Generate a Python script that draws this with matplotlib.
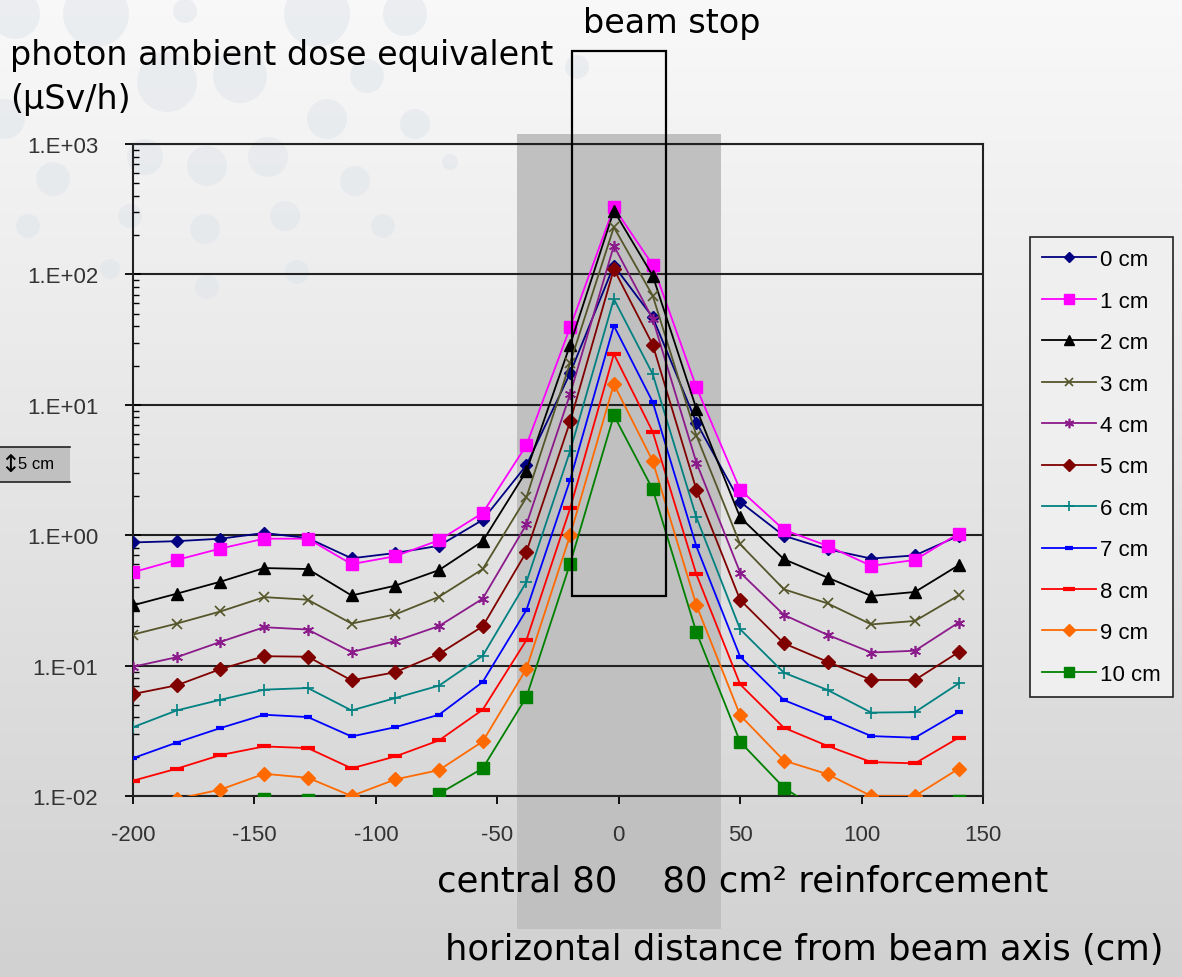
import numpy as np
import matplotlib
matplotlib.use("Agg")
import matplotlib.pyplot as plt
import matplotlib.ticker as mticker
from matplotlib.patches import Rectangle, Circle
from matplotlib.transforms import blended_transform_factory

plt.rcParams["axes.unicode_minus"] = False

W, H = 1182, 978

# horizontal positions of the detectors (cm from beam axis)
dist = [-200, -182, -164, -146, -128, -110, -92, -74, -56, -38,
        -20, -2, 14, 32, 50, 68, 86, 104, 122, 140]

# dose rate (uSv/h) for each depth below the surface
d0 = [0.88, 0.90, 0.94, 1.04, 0.95, 0.665, 0.73, 0.83, 1.31, 3.44,
      17.5, 117, 46.9, 7.3, 1.80, 0.99, 0.78, 0.662, 0.70, 0.99]
d1 = [0.52, 0.646, 0.79, 0.94, 0.94, 0.60, 0.69, 0.915, 1.48, 4.9,
      39.3, 327, 118, 13.6, 2.23, 1.10, 0.828, 0.582, 0.646, 1.03]
d2 = [0.29, 0.356, 0.44, 0.56, 0.55, 0.345, 0.41, 0.54, 0.90, 3.1,
      28.9, 308, 97.7, 9.3, 1.37, 0.655, 0.473, 0.342, 0.367, 0.589]
d3 = [0.173, 0.21, 0.26, 0.335, 0.32, 0.21, 0.247, 0.337, 0.55, 1.95,
      21, 230, 68.7, 5.8, 0.853, 0.385, 0.30, 0.207, 0.22, 0.346]
d4 = [0.098, 0.116, 0.152, 0.197, 0.189, 0.127, 0.154, 0.201, 0.326, 1.21,
      12.1, 166, 45.5, 3.6, 0.517, 0.245, 0.172, 0.126, 0.13, 0.214]
d5 = [0.0605, 0.0706, 0.094, 0.118, 0.117, 0.077, 0.089, 0.123, 0.20, 0.745,
      7.45, 110, 28.9, 2.23, 0.319, 0.148, 0.107, 0.0776, 0.0776, 0.127]
d6 = [0.0337, 0.0453, 0.0547, 0.0654, 0.0673, 0.0453, 0.0564, 0.0702, 0.119, 0.438,
      4.43, 64.7, 17.2, 1.37, 0.19, 0.0883, 0.065, 0.0436, 0.044, 0.073]
d7 = [0.0195, 0.0257, 0.0332, 0.042, 0.0403, 0.0286, 0.0337, 0.042, 0.0749, 0.267,
      2.66, 40.4, 10.5, 0.82, 0.117, 0.0544, 0.0399, 0.0288, 0.028, 0.044]
d8 = [0.0131, 0.0162, 0.0206, 0.024, 0.0233, 0.0163, 0.0201, 0.0267, 0.0459, 0.157,
      1.61, 24.5, 6.2, 0.50, 0.0718, 0.0334, 0.0242, 0.0182, 0.0178, 0.028]
d9 = [0.0085, 0.0095, 0.0112, 0.0148, 0.0138, 0.0100, 0.0134, 0.0158, 0.0262, 0.0948,
      1.0, 14.4, 3.7, 0.29, 0.0416, 0.0187, 0.0147, 0.0100, 0.0100, 0.0162]
d10 = [0.005, 0.006, 0.007, 0.0095, 0.0094, 0.006, 0.0075, 0.0104, 0.0163, 0.0574,
       0.606, 8.3, 2.25, 0.18, 0.026, 0.0116, 0.007, 0.005, 0.005, 0.0092]

labels = ["0 cm", "1 cm", "2 cm", "3 cm", "4 cm", "5 cm",
          "6 cm", "7 cm", "8 cm", "9 cm", "10 cm"]
series = [d0, d1, d2, d3, d4, d5, d6, d7, d8, d9, d10]

colors = ["#000080", "#ff00ff", "#000000", "#55552a", "#8b1a8b", "#800000",
          "#008080", "#0000ff", "#ff0000", "#ff6a00", "#008000"]
markers = ["D", "s", "^", "x", (6, 2, 0), "D", "+", "_", "_", "D", "s"]
msizes = [6, 8, 8, 7, 8, 7, 8, 6, 10, 7, 8]
mews = [1, 1, 1, 1.2, 1.2, 1, 1.2, 3, 3, 1, 1]


def fx(px):
    return px / W


def fy(py):
    return 1 - py / H


fig = plt.figure(figsize=(W / 100, H / 100), dpi=100)

# slide background: vertical grey gradient plus faint bubbles
bg = fig.add_axes([0, 0, 1, 1], zorder=-10)
grad = np.linspace(0.975, 0.82, 256).reshape(-1, 1)
bg.imshow(np.dstack([grad, grad, grad]), aspect="auto",
          extent=[0, W, H, 0], interpolation="bilinear")
bubbles = [(15, 15, 25), (96, 15, 33), (185, 12, 12), (240, 77, 27),
           (317, 15, 33), (367, 77, 17), (405, 15, 22), (415, 125, 15),
           (327, 120, 20), (167, 83, 30), (5, 120, 20), (53, 180, 17),
           (145, 158, 18), (207, 167, 20), (268, 158, 20), (355, 182, 15),
           (130, 217, 12), (205, 230, 15), (285, 217, 15), (383, 227, 12),
           (28, 227, 12), (207, 288, 12), (297, 273, 12), (110, 270, 10),
           (450, 163, 8), (577, 68, 12)]
for cx, cy, r in bubbles:
    bg.add_patch(Circle((cx, cy), r, color="#dfe4ea", alpha=0.5, lw=0))
bg.set_xlim(0, W)
bg.set_ylim(H, 0)
bg.axis("off")

ax = fig.add_axes([fx(133), fy(797), fx(983) - fx(133), fy(145) - fy(797)])
ax.patch.set_alpha(0)

for vals, lab, c, m, ms, mew in zip(series, labels, colors, markers, msizes, mews):
    ax.plot(dist, vals, color=c, marker=m, markersize=ms, markeredgewidth=mew,
            markerfacecolor=c, markeredgecolor=c, lw=1.3, label=lab, zorder=3)

ax.set_yscale("log")
ax.set_ylim(1e-2, 1e3)
ax.set_xlim(-200, 150)
ax.set_xticks(np.arange(-200, 151, 50))
ax.yaxis.set_major_locator(mticker.LogLocator(base=10, numticks=10))
ax.yaxis.set_minor_locator(mticker.LogLocator(base=10, subs=np.arange(2, 10), numticks=20))
ax.yaxis.set_minor_formatter(mticker.NullFormatter())
ax.yaxis.set_major_formatter(
    mticker.FuncFormatter(lambda v, p: "1.E{:+03d}".format(int(round(np.log10(v))))))
ax.grid(True, which="major", axis="y", color="#222222", lw=1.5)
for s in ax.spines.values():
    s.set_color("#222222")
    s.set_linewidth(1.5)

ax.tick_params(axis="both", which="major", labelsize=16, labelcolor="#333333",
               labelfontfamily="Liberation Sans")
ax.tick_params(axis="y", which="major", direction="inout", length=12, width=1.3, pad=19)
ax.tick_params(axis="y", which="minor", direction="in", length=4, width=1)
ax.tick_params(axis="x", which="major", direction="out", length=6, width=1.3, pad=14)

# central reinforcement band and beam stop outline
trans = blended_transform_factory(ax.transData, fig.transFigure)
ax.add_patch(Rectangle((-42, fy(930)), 84, fy(135) - fy(930), transform=trans,
                       facecolor="#c0c0c0", edgecolor="none", clip_on=False, zorder=0.5))
ax.add_patch(Rectangle((-19.3, fy(597)), 38.8, fy(52) - fy(597), transform=trans,
                       fill=False, edgecolor="black", lw=1.6, clip_on=False, zorder=5))

leg = ax.legend(loc="upper left", bbox_to_anchor=(fx(1030), fy(238)),
                bbox_transform=fig.transFigure, borderaxespad=0,
                prop={"family": "Liberation Sans", "size": 16},
                frameon=True, fancybox=False, edgecolor="#222222",
                facecolor="#efefef", framealpha=1, handlelength=2.4,
                handletextpad=0.2, labelspacing=0.92, borderpad=0.55,
                markerscale=0.85)
leg.get_frame().set_linewidth(1.2)

# depth scale key at the left edge
fig.patches.append(Rectangle((0, fy(483)), fx(70), fy(448) - fy(483),
                             transform=fig.transFigure, facecolor="#c0c0c0",
                             edgecolor="none", zorder=1))
fig.lines.append(plt.Line2D([0, fx(70)], [fy(448), fy(448)], transform=fig.transFigure,
                            color="#222222", lw=1.2))
fig.lines.append(plt.Line2D([0, fx(70)], [fy(483), fy(483)], transform=fig.transFigure,
                            color="#222222", lw=1.2))
fig.text(fx(10), fy(465), "\u2195", fontsize=17, ha="center", va="center", color="black")
fig.text(fx(18), fy(465), "5 cm", fontsize=12, ha="left", va="center",
         family="Liberation Sans")

top = {"family": "DejaVu Sans", "size": 24, "color": "black"}
low = {"family": "DejaVu Sans", "size": 25.5, "color": "black"}
fig.text(fx(10), fy(56), "photon ambient dose equivalent", ha="left", va="center", **top)
fig.text(fx(10), fy(100), "(\u03bcSv/h)", ha="left", va="center", **top)
fig.text(fx(672), fy(24), "beam stop", ha="center", va="center", **top)
fig.text(fx(437), fy(882), "central 80    80 cm\u00b2 reinforcement", ha="left", va="center", **low)
fig.text(fx(445), fy(950), "horizontal distance from beam axis (cm)", ha="left", va="center", **low)

fig.savefig("out.png", dpi=100)
